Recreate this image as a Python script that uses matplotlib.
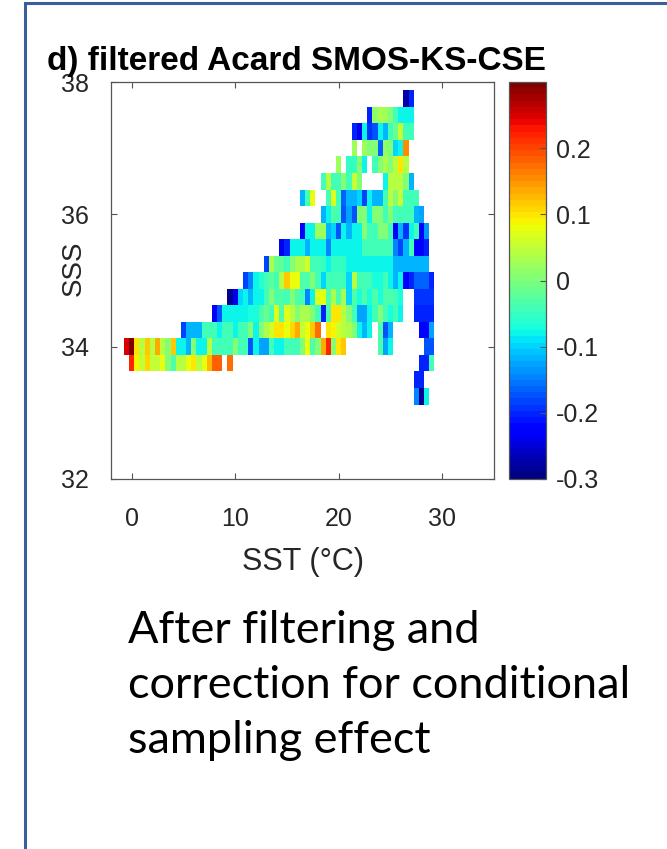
import numpy as np
import matplotlib
matplotlib.use('Agg')
import matplotlib.pyplot as plt
from matplotlib.patches import Rectangle

W, H = 667, 849

# grid of the binned plot: SST bins 0.5 degC wide, SSS bins 0.25 wide
sst_step = 0.5
sss_step = 0.25
sst_first, sst_last = -0.5, 29.0
sss_first, sss_last = 33.25, 37.75

nan = np.nan
# (SSS centre, SST of first cell, values along SST)
segments = [
    (37.75, 26.5, [-0.28, -0.20]),
    (37.50, 23.0, [-0.20, 0.01, 0.03, 0.02, 0.00, -0.04, -0.08, -0.08, -0.08]),
    (37.25, 21.5, [-0.20, -0.24, -0.08, -0.19, -0.17, -0.08, -0.12, -0.04, -0.01, 0.05, -0.04, -0.04]),
    (37.00, 21.5, [0.02, nan, 0.02, 0.00, 0.00, -0.16, 0.01, 0.00, -0.10, -0.08, 0.15]),
    (36.75, 20.0, [0.02, nan, -0.05, -0.05, 0.00, -0.08, nan, -0.04, 0.00, 0.03, 0.00, 0.04, 0.10, 0.04]),
    (36.50, 18.5, [-0.04, 0.04, -0.04, -0.04, 0.00, -0.04, 0.05, 0.00, nan, nan, nan, nan,
                   -0.08, 0.04, 0.04, 0.04, 0.00, -0.12]),
    (36.25, 16.5, [-0.12, -0.04, 0.08, nan, nan, -0.04, 0.07, -0.04, -0.16, -0.12, -0.12, -0.10,
                   -0.18, -0.08, -0.12, -0.12, -0.04, 0.04, 0.00, 0.05, -0.04, -0.04, -0.04]),
    (36.00, 18.5, [-0.12, -0.08, -0.03, -0.04, -0.17, -0.13, -0.17, 0.00, 0.00, -0.08, 0.00, 0.00,
                   -0.04, 0.00, -0.04, -0.04, -0.04, -0.04, -0.12, -0.13]),
    (35.75, 16.5, [-0.23, -0.08, -0.08, 0.02, 0.02, -0.12, -0.10, -0.17, -0.08, -0.12, -0.08, -0.08,
                   0.00, -0.04, -0.04, 0.00, 0.00, -0.04, -0.23, -0.12, -0.19, -0.08, -0.04, -0.23, -0.14]),
    (35.50, 14.5, [-0.24, -0.20, -0.08, -0.08, -0.08, -0.12, -0.08, -0.08, -0.08, -0.15, -0.08, -0.08,
                   -0.08, -0.08, -0.08, -0.08, -0.04, -0.04, -0.04, -0.04, -0.04, -0.04, -0.15, -0.18,
                   -0.12, -0.04, -0.23, -0.23, -0.20]),
    (35.25, 13.0, [-0.18, 0.03, -0.01, -0.02, -0.04, 0.00, 0.03, 0.03, 0.06, -0.04, -0.04, -0.05,
                   -0.08, -0.05, -0.05, -0.05, -0.08, -0.08, -0.08, -0.08, -0.08, -0.08, -0.08, -0.08,
                   -0.08, -0.12, -0.12, -0.12, -0.12, -0.12, -0.12, -0.12]),
    (35.00, 11.0, [-0.18, -0.15, -0.08, -0.06, -0.04, -0.02, -0.04, 0.04, 0.12, 0.08, 0.08, -0.03,
                   -0.03, 0.00, -0.04, -0.10, -0.04, -0.04, -0.04, -0.04, -0.10, 0.04, -0.04, -0.04,
                   -0.04, -0.07, -0.07, -0.04, -0.08, -0.12, -0.08, -0.23, -0.20, -0.16, -0.16, -0.16, -0.20]),
    (34.75, 9.5, [-0.29, -0.24, -0.10, -0.08, -0.12, -0.08, -0.08, -0.04, 0.00, -0.03, -0.03, -0.04,
                  0.00, -0.03, -0.04, -0.15, -0.08, 0.07, 0.08, -0.03, 0.03, -0.03, 0.03, -0.10,
                  -0.03, -0.07, -0.03, -0.07, -0.03, -0.07, -0.03, -0.03, -0.04, -0.07, nan, nan,
                  -0.19, -0.19, -0.19, -0.19]),
    (34.50, 8.0, [-0.23, -0.17, -0.08, -0.08, -0.08, -0.08, -0.08, -0.07, -0.07, -0.03, -0.01, -0.04,
                  0.07, -0.03, 0.07, 0.04, 0.00, 0.03, 0.03, 0.00, -0.04, -0.20, -0.03, 0.10,
                  0.10, 0.04, 0.00, -0.04, -0.13, -0.13, -0.08, -0.04, 0.00, -0.04, -0.07, -0.04,
                  -0.08, nan, nan, -0.20, -0.20, -0.20, -0.20]),
    (34.25, 5.0, [-0.18, -0.12, -0.12, -0.12, -0.04, -0.04, -0.04, -0.08, -0.04, -0.04, -0.08, -0.04,
                  -0.04, 0.00, -0.08, 0.00, 0.03, 0.06, 0.10, 0.10, 0.08, 0.11, 0.14, 0.05,
                  0.08, 0.12, 0.17, nan, 0.10, 0.09, 0.06, 0.04, 0.03, 0.00, -0.08, -0.12,
                  -0.08, nan, -0.03, -0.17, -0.12, nan, nan, nan, nan, nan, -0.23, -0.23, -0.13]),
    (34.00, -0.5, [0.25, 0.30, 0.10, 0.04, 0.12, 0.04, 0.14, 0.04, 0.00, 0.12, -0.08, -0.08,
                   -0.12, 0.00, -0.08, -0.08, 0.04, -0.04, -0.04, -0.04, -0.04, 0.00, -0.04, -0.04,
                   -0.17, -0.08, -0.13, -0.13, -0.04, -0.08, -0.08, -0.04, -0.04, -0.04, 0.00, 0.08,
                   -0.03, 0.00, 0.14, 0.22, 0.00, 0.10, 0.12, nan, nan, nan, nan, nan,
                   nan, -0.03, -0.13, -0.08, nan, nan, nan, nan, nan, nan, -0.17, -0.17]),
    (33.75, 0.0, [0.22, 0.09, 0.05, 0.11, 0.05, 0.05, 0.08, 0.00, -0.03, 0.04, 0.04, 0.08,
                  0.10, 0.04, 0.08, 0.13, 0.18, 0.18, nan, 0.17]),
    (33.75, 28.0, [-0.20, -0.20, -0.04]),
    (33.50, 27.5, [-0.20, -0.20]),
    (33.25, 27.5, [-0.15, -0.29, -0.08]),
]

cbar_ticks = [-0.3, -0.2, -0.1, 0, 0.1, 0.2]
cbar_labels = ['-0.3', '-0.2', '-0.1', '0', '0.1', '0.2']
x_ticks = [0, 10, 20, 30]
y_ticks = [32, 34, 36, 38]

title = 'd) filtered Acard SMOS-KS-CSE'
caption_lines = ['After filtering and', 'correction for conditional', 'sampling effect']

# build the grid
sst_edges = np.arange(sst_first - sst_step / 2, sst_last + sst_step, sst_step)
sss_edges = np.arange(sss_first - sss_step / 2, sss_last + sss_step, sss_step)
grid = np.full((len(sss_edges) - 1, len(sst_edges) - 1), np.nan)
for sss, sst0, vals in segments:
    i = int(round((sss - sss_first) / sss_step))
    j = int(round((sst0 - sst_first) / sst_step))
    grid[i, j:j + len(vals)] = vals


def px_rect(l, t, r, b):
    return [l / W, 1 - b / H, (r - l) / W, (b - t) / H]


plt.rcParams['font.family'] = ['Liberation Sans', 'DejaVu Sans']
tick_col = '#262626'
spine_col = '#555555'

fig = plt.figure(figsize=(W / 100, H / 100), dpi=100)

# slide frame
fig.patches.append(Rectangle((25 / W, -0.1), 1.1, 1 - 3 / H + 0.1, transform=fig.transFigure,
                             fill=False, edgecolor='#3A5D9C', linewidth=2.2))

ax = fig.add_axes(px_rect(111, 82, 494, 479))
mesh = ax.pcolormesh(sst_edges, sss_edges, np.ma.masked_invalid(grid),
                     cmap=plt.get_cmap('jet', 64), vmin=-0.3, vmax=0.3, shading='flat')
ax.set_xlim(-2, 35)
ax.set_ylim(32, 38)
ax.set_xticks(x_ticks)
ax.set_yticks(y_ticks)
ax.tick_params(direction='in', top=True, right=True, length=4, width=0.8,
               color=spine_col, labelcolor=tick_col, labelsize=18)
ax.tick_params(axis='x', pad=20)
ax.tick_params(axis='y', pad=16)
for s in ax.spines.values():
    s.set_color(spine_col)
    s.set_linewidth(0.9)

cax = fig.add_axes(px_rect(509, 82, 546, 479))
cb = fig.colorbar(mesh, cax=cax, ticks=cbar_ticks)
cb.ax.set_yticklabels(cbar_labels)
cb.ax.tick_params(direction='in', length=4, width=0.8, color=spine_col,
                  labelcolor=tick_col, labelsize=18, pad=7)
cb.outline.set_edgecolor(spine_col)
cb.outline.set_linewidth(0.9)

fig.text(74 / W, 1 - 268 / H, 'SSS', rotation=90, ha='center', va='center',
         fontsize=20, color=tick_col)
fig.text(303 / W, 1 - 562 / H, 'SST (°C)', ha='center', va='center',
         fontsize=22, color=tick_col)
fig.text(47 / W, 1 - 70 / H, title, ha='left', va='baseline',
         fontsize=24, fontweight='bold', color='black')

for n, line in enumerate(caption_lines):
    fig.text(128 / W, 1 - (643 + 55 * n) / H, line, ha='left', va='baseline',
             fontsize=32.5, family=['Lato', 'DejaVu Sans'], color='black')

fig.savefig('out.png', dpi=100)
